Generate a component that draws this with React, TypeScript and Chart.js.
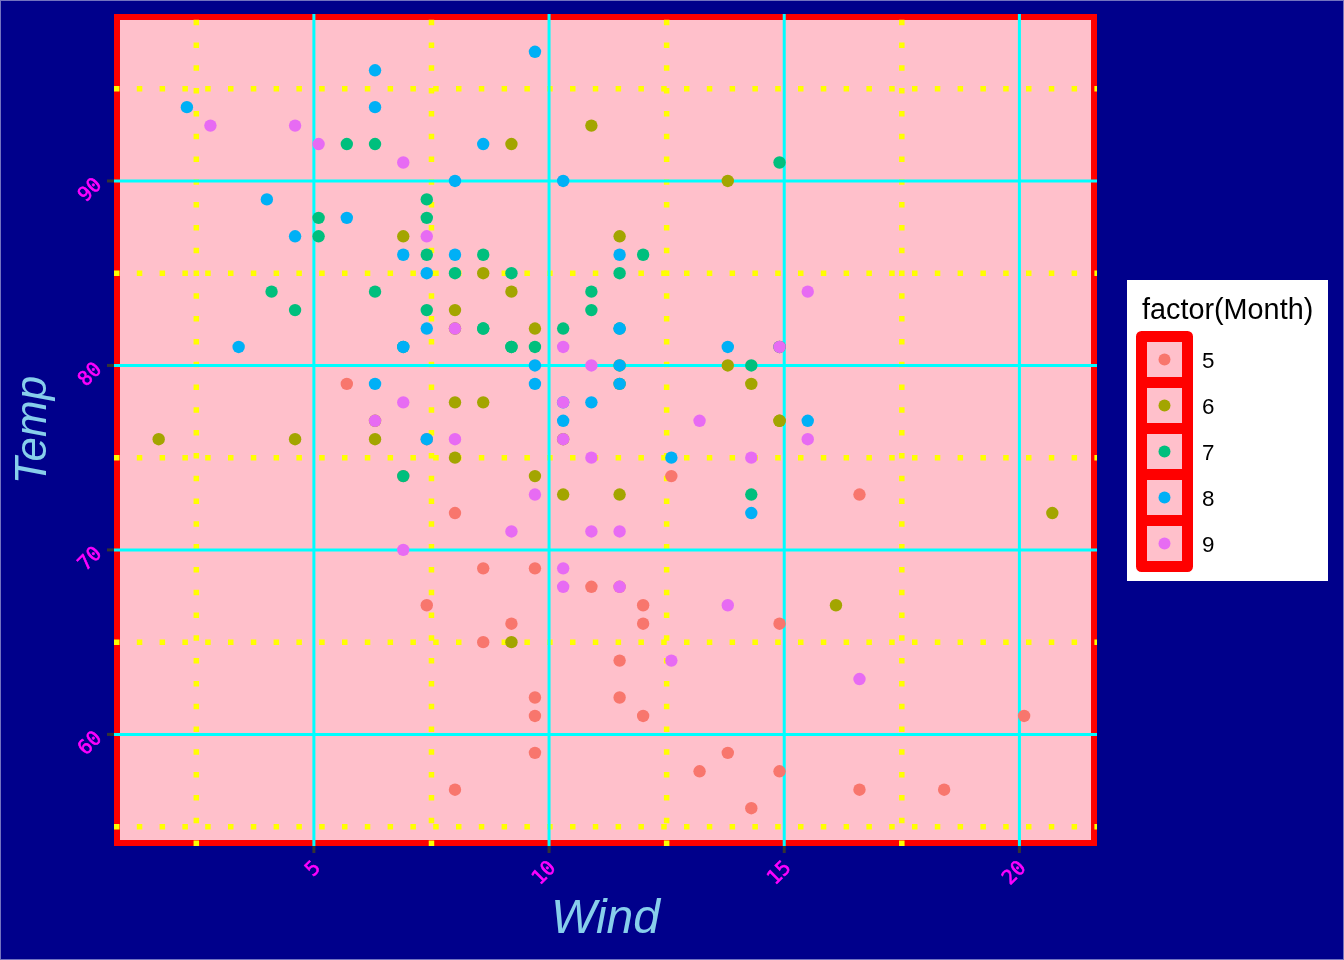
import React, { useEffect, useRef } from "react";
import { Chart, registerables } from "chart.js";

Chart.register(...registerables);

// airquality: Wind vs Temp by Month
const months = ["5", "6", "7", "8", "9"];
const monthColors = ["#F8766D", "#A3A500", "#00BF7D", "#00B0F6", "#E76BF3"];

const mayWind = [7.4, 8.0, 12.6, 11.5, 14.3, 14.9, 8.6, 13.8, 20.1, 8.6, 6.9, 9.7, 9.2, 10.9, 13.2, 11.5, 12.0, 18.4, 11.5, 9.7, 9.7, 16.6, 9.7, 12.0, 16.6, 14.9, 8.0, 12.0, 14.9, 5.7, 7.4];
const mayTemp = [67, 72, 74, 62, 56, 66, 65, 59, 61, 69, 74, 69, 66, 68, 58, 64, 66, 57, 68, 62, 59, 73, 61, 61, 57, 58, 57, 67, 81, 79, 76];

const junWind = [8.6, 9.7, 16.1, 9.2, 8.6, 14.3, 9.7, 6.9, 13.8, 11.5, 10.9, 9.2, 8.0, 13.8, 11.5, 14.9, 20.7, 9.2, 11.5, 10.3, 6.3, 1.7, 4.6, 6.3, 8.0, 8.0, 10.3, 11.5, 14.9, 8.0];
const junTemp = [78, 74, 67, 84, 85, 79, 82, 87, 90, 87, 93, 92, 82, 80, 79, 77, 72, 65, 73, 76, 77, 76, 76, 76, 75, 78, 73, 80, 77, 83];

const julWind = [4.1, 9.2, 9.2, 10.9, 4.6, 10.9, 5.1, 6.3, 5.7, 7.4, 8.6, 14.3, 14.9, 14.9, 14.3, 6.9, 10.3, 6.3, 5.1, 11.5, 6.9, 9.7, 11.5, 8.6, 8.0, 8.6, 12.0, 7.4, 7.4, 7.4, 9.2];
const julTemp = [84, 85, 81, 84, 83, 83, 88, 92, 92, 89, 82, 73, 81, 91, 80, 81, 82, 84, 87, 85, 74, 81, 82, 86, 85, 82, 86, 88, 86, 83, 81];

const augWind = [6.9, 13.8, 7.4, 6.9, 7.4, 4.6, 4.0, 10.3, 8.0, 8.6, 11.5, 11.5, 11.5, 9.7, 11.5, 10.3, 6.3, 7.4, 10.9, 10.3, 15.5, 14.3, 12.6, 9.7, 3.4, 8.0, 5.7, 9.7, 2.3, 6.3, 6.3];
const augTemp = [81, 81, 82, 86, 85, 87, 89, 90, 90, 92, 86, 82, 80, 80, 79, 77, 79, 76, 78, 78, 77, 72, 75, 79, 81, 86, 88, 97, 94, 96, 94];

const sepWind = [6.9, 5.1, 2.8, 4.6, 7.4, 15.5, 10.9, 10.3, 10.9, 9.7, 14.9, 15.5, 6.3, 10.9, 11.5, 6.9, 13.8, 10.3, 10.3, 8.0, 12.6, 9.2, 10.3, 10.3, 16.6, 6.9, 13.2, 14.3, 8.0, 11.5];
const sepTemp = [91, 92, 93, 93, 87, 84, 80, 78, 75, 73, 81, 76, 77, 71, 71, 78, 67, 76, 68, 82, 64, 71, 81, 69, 63, 70, 77, 75, 76, 68];

const xMajorTicks = [5, 10, 15, 20];
const xMinorTicks = [2.5, 7.5, 12.5, 17.5];
const yMajorTicks = [60, 70, 80, 90];
const yMinorTicks = [55, 65, 75, 85, 95];

const xTitle = "Wind";
const yTitle = "Temp";
const legendTitle = "factor(Month)";

const windByMonth = [mayWind, junWind, julWind, augWind, sepWind];
const tempByMonth = [mayTemp, junTemp, julTemp, augTemp, sepTemp];

const W = 1344;
const H = 960;

const decorPlugin = {
  id: "decor",
  beforeDraw(chart: any) {
    const { ctx, chartArea: a, scales } = chart;
    const xs = scales.x;
    const ys = scales.y;
    ctx.save();
    // plot background
    ctx.fillStyle = "#00008B";
    ctx.fillRect(0, 0, W, H);
    ctx.strokeStyle = "rgba(255,255,255,0.45)";
    ctx.lineWidth = 1;
    ctx.strokeRect(0.5, 0.5, W - 1, H - 1);
    // panel background with red border
    ctx.fillStyle = "#FF0000";
    ctx.fillRect(a.left, a.top, a.right - a.left, a.bottom - a.top);
    ctx.fillStyle = "#FFC0CB";
    ctx.fillRect(a.left + 6, a.top + 6, a.right - a.left - 12, a.bottom - a.top - 12);

    // minor grid dotted yellow
    ctx.strokeStyle = "#FFFF00";
    ctx.lineWidth = 5.5;
    ctx.lineCap = "butt";
    ctx.setLineDash([5.5, 17.3]);
    for (const v of yMinorTicks) {
      const py = ys.getPixelForValue(v);
      ctx.beginPath();
      ctx.moveTo(a.left, py);
      ctx.lineTo(a.right, py);
      ctx.stroke();
    }
    for (const v of xMinorTicks) {
      const px = xs.getPixelForValue(v);
      ctx.beginPath();
      ctx.moveTo(px, a.bottom);
      ctx.lineTo(px, a.top);
      ctx.stroke();
    }
    ctx.setLineDash([]);
    // major grid cyan
    ctx.strokeStyle = "#00FFFF";
    ctx.lineWidth = 3;
    for (const v of yMajorTicks) {
      const py = ys.getPixelForValue(v);
      ctx.beginPath();
      ctx.moveTo(a.left, py);
      ctx.lineTo(a.right, py);
      ctx.stroke();
    }
    for (const v of xMajorTicks) {
      const px = xs.getPixelForValue(v);
      ctx.beginPath();
      ctx.moveTo(px, a.bottom);
      ctx.lineTo(px, a.top);
      ctx.stroke();
    }
    // ticks
    ctx.strokeStyle = "#333333";
    ctx.lineWidth = 3;
    for (const v of xMajorTicks) {
      const px = xs.getPixelForValue(v);
      ctx.beginPath();
      ctx.moveTo(px, a.bottom);
      ctx.lineTo(px, a.bottom + 7);
      ctx.stroke();
    }
    for (const v of yMajorTicks) {
      const py = ys.getPixelForValue(v);
      ctx.beginPath();
      ctx.moveTo(a.left, py);
      ctx.lineTo(a.left - 7, py);
      ctx.stroke();
    }
    // tick labels
    ctx.fillStyle = "#FF00FF";
    ctx.strokeStyle = "#FF00FF";
    ctx.lineWidth = 0.6;
    ctx.font = "20px 'DejaVu Sans Mono', 'Liberation Mono', monospace";
    ctx.textAlign = "right";
    ctx.textBaseline = "middle";
    for (const v of xMajorTicks) {
      const px = xs.getPixelForValue(v);
      ctx.save();
      ctx.translate(px + 4, a.bottom + 19);
      ctx.rotate(-Math.PI / 4);
      ctx.fillText(String(v), 0, 0);
      ctx.strokeText(String(v), 0, 0);
      ctx.restore();
    }
    for (const v of yMajorTicks) {
      const py = ys.getPixelForValue(v);
      ctx.save();
      ctx.translate(a.left - 15, py + 1);
      ctx.rotate(-Math.PI / 4);
      ctx.fillText(String(v), 0, 0);
      ctx.strokeText(String(v), 0, 0);
      ctx.restore();
    }
    // axis titles
    ctx.fillStyle = "#87CEEB";
    ctx.textAlign = "center";
    ctx.textBaseline = "alphabetic";
    ctx.font = "italic 48px 'Liberation Sans', Arial, sans-serif";
    ctx.fillText(xTitle, (a.left + a.right) / 2, 933);
    ctx.save();
    ctx.translate(46, (a.top + a.bottom) / 2);
    ctx.rotate(-Math.PI / 2);
    ctx.font = "italic 44px 'Liberation Sans', Arial, sans-serif";
    ctx.fillText(yTitle, 0, 0);
    ctx.restore();
    ctx.restore();
  },
  afterDraw(chart: any) {
    const { ctx } = chart;
    ctx.save();
    // legend box
    ctx.fillStyle = "#FFFFFF";
    ctx.fillRect(1127, 280, 201, 301);
    ctx.fillStyle = "#000000";
    ctx.font = "28.8px 'Liberation Sans', Arial, sans-serif";
    ctx.textAlign = "left";
    ctx.textBaseline = "alphabetic";
    ctx.fillText(legendTitle, 1142, 319);
    const keyX = 1141.5;
    const keyTop = 336.5;
    const keySize = 46;
    months.forEach((m, i) => {
      const y0 = keyTop + i * keySize;
      ctx.fillStyle = "#FFC0CB";
      ctx.fillRect(keyX, y0, keySize, keySize);
    });
    ctx.strokeStyle = "#FF0000";
    ctx.lineWidth = 11;
    ctx.lineJoin = "round";
    months.forEach((m, i) => {
      const y0 = keyTop + i * keySize;
      ctx.strokeRect(keyX, y0, keySize, keySize);
    });
    months.forEach((m, i) => {
      const cy = keyTop + i * keySize + keySize / 2;
      ctx.fillStyle = monthColors[i];
      ctx.beginPath();
      ctx.arc(keyX + keySize / 2, cy, 6, 0, Math.PI * 2);
      ctx.fill();
      ctx.fillStyle = "#000000";
      ctx.font = "22.4px 'Liberation Sans', Arial, sans-serif";
      ctx.fillText(m, 1202, cy + 8.5);
    });
    ctx.restore();
  },
};

export default function App() {
  const canvasRef = useRef<HTMLCanvasElement | null>(null);
  useEffect(() => {
    const canvas = canvasRef.current;
    if (!canvas) return;
    const datasets = months.map((m, i) => ({
      label: m,
      data: windByMonth[i].map((w, j) => ({ x: w, y: tempByMonth[i][j] })),
      backgroundColor: monthColors[i],
      borderWidth: 0,
      pointRadius: 6.2,
      pointHoverRadius: 6.2,
      order: months.length - 1 - i,
    }));
    const chart = new Chart(canvas, {
      type: "scatter",
      data: { datasets },
      options: {
        responsive: false,
        animation: false,
        devicePixelRatio: 1,
        layout: { padding: { left: 114, top: 14, right: W - 1097, bottom: H - 846 } },
        plugins: { legend: { display: false }, tooltip: { enabled: false } },
        scales: {
          x: { type: "linear", min: 0.75, max: 21.65, display: false },
          y: { type: "linear", min: 53.95, max: 99.05, display: false },
        },
      },
      plugins: [decorPlugin],
    } as any);
    return () => chart.destroy();
  }, []);
  return (
    <div style={{ position: "absolute", left: 0, top: 0, width: W, height: H }}>
      <canvas ref={canvasRef} width={W} height={H} style={{ width: W, height: H, display: "block" }} />
    </div>
  );
}
